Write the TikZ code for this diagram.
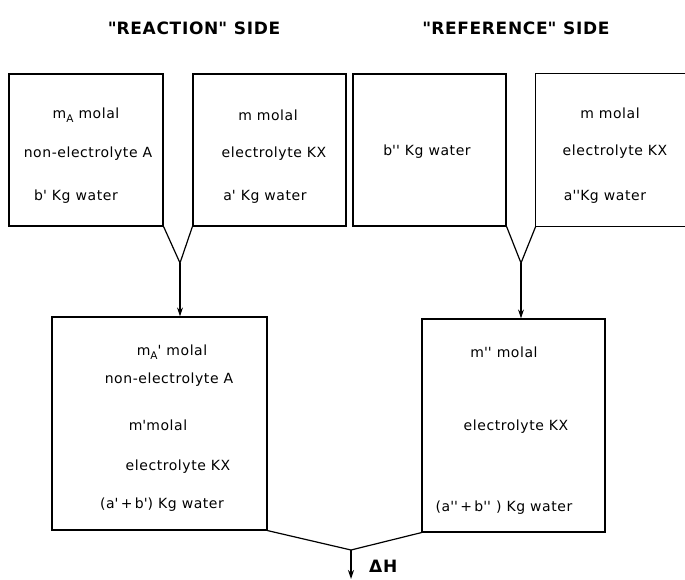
\documentclass[tikz,border=0pt]{standalone}
\usepackage{fontspec}
\setmainfont{DejaVu Sans}[LetterSpace=4]
\usetikzlibrary{arrows.meta}
% straight prime tick and lowered subscript A
\newcommand\tick{\textquotesingle}
\newcommand\lowA{\raisebox{-0.5ex}{\fontsize{10.5}{10.5}\selectfont A}}

\begin{document}
\begin{tikzpicture}[x=1pt,y=-1pt,
  lbl/.style={font=\fontsize{14}{14}\selectfont, inner sep=0pt},
  ttl/.style={font=\bfseries\fontsize{17}{17}\selectfont, inner sep=0pt},
  vessel/.style={draw, line width=1.2pt, inner sep=0pt},
  feed/.style={line width=1.2pt},
  flow/.style={line width=1.2pt, -{Stealth[length=9pt,width=6pt]}}]
\useasboundingbox (0,0) rectangle (685,580);

% column headings
\node[ttl] (hr) at (194,28) {\textquotedbl REACTION\textquotedbl\ SIDE};
\node[ttl] (hf) at (516,28) {\textquotedbl REFERENCE\textquotedbl\ SIDE};

% initial solutions
\node[vessel, minimum width=154pt, minimum height=152pt] (b1) at (86,150) {};
\node[vessel, minimum width=153pt, minimum height=152pt] (b2) at (269.5,150) {};
\node[vessel, minimum width=153pt, minimum height=152pt] (b3) at (429.5,150) {};
\node[minimum width=150pt, minimum height=152pt, inner sep=0pt] (b4) at (611,150) {};
\draw[feed] (b4.north east) -- (b4.north west) -- (b4.south west) -- (b4.south east);

\node[lbl] (t1a) at (86,115) {m\lowA\ molal};
\node[lbl] (t1b) at (88,154) {non-electrolyte A};
\node[lbl] (t1c) at (76,197) {b\tick\ Kg water};

\node[lbl] (t2a) at (268,115) {m molal};
\node[lbl] (t2b) at (274,154) {electrolyte KX};
\node[lbl] (t2c) at (265,197) {a\tick\ Kg water};

\node[lbl] (t3a) at (427,152) {b\tick\tick\ Kg water};

\node[lbl] (t4a) at (610,113) {m molal};
\node[lbl] (t4b) at (615,152) {electrolyte KX};
\node[lbl] (t4c) at (605,197) {a\tick\tick Kg water};

% mixed solutions
\node[vessel, minimum width=215pt, minimum height=213pt] (mL) at (159.5,423.5) {};
\node[vessel, minimum width=183pt, minimum height=213pt] (mR) at (513.5,425.5) {};

\node[lbl] (l1) at (172,352) {m\lowA\tick\ molal};
\node[lbl] (l2) at (169,380) {non-electrolyte A};
\node[lbl] (l3) at (158,425) {m\tick molal};
\node[lbl] (l4) at (178,467) {electrolyte KX};
\node[lbl] (l5) at (162,505) {(a\tick\,+\,b\tick) Kg water};

\node[lbl] (r1) at (504,352) {m\tick\tick\ molal};
\node[lbl] (r2) at (516,427) {electrolyte KX};
\node[lbl] (r3) at (504,508) {(a\tick\tick\,+\,b\tick\tick\ ) Kg water};

% mixing funnels
\coordinate (v1) at (180,263);
\coordinate (v2) at (521,263);
\coordinate (v3) at (351,550);
\coordinate (out) at (351,579);

\draw[feed] (b1.south east) -- (v1) -- (b2.south west);
\draw[flow] (v1) -- (v1 |- mL.north);
\draw[feed] (b3.south east) -- (v2) -- (b4.south west);
\draw[flow] (v2) -- (v2 |- mR.north);
\draw[feed] (mL.south east) -- (v3) -- (mR.south west);
\draw[flow] (v3) -- (out);
\node[ttl, anchor=west] (dh) at (369,566) {ΔH};
\end{tikzpicture}
\end{document}
